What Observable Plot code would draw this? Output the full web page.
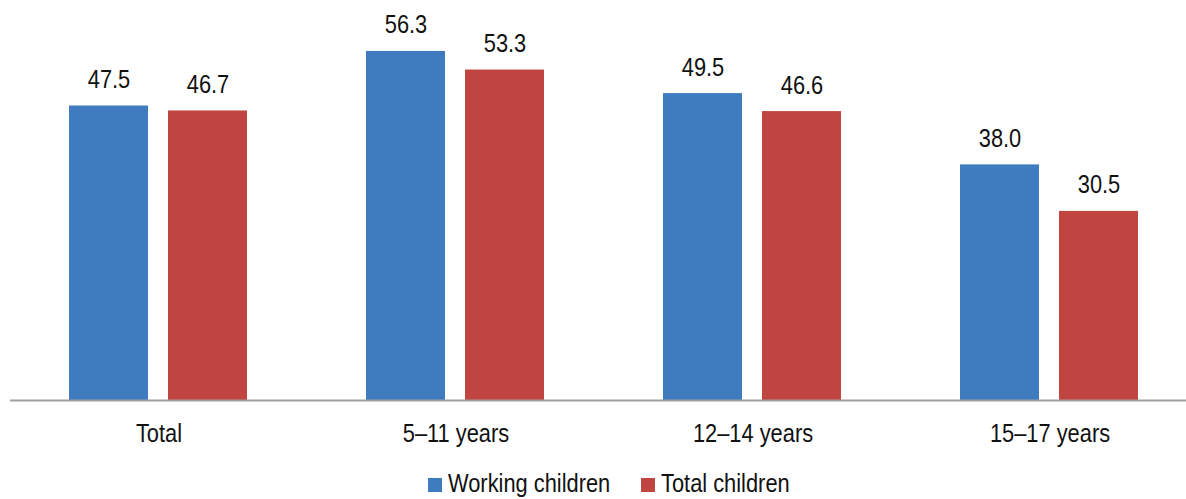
<!DOCTYPE html>
<html><head><meta charset="utf-8">
<script src="https://cdn.jsdelivr.net/npm/d3@7"></script>
<script src="https://cdn.jsdelivr.net/npm/@observablehq/plot@0.6"></script>
<style>
body{margin:0;background:#fff;font-family:"Liberation Sans",Arial,sans-serif;position:relative;width:1186px;height:499px;overflow:hidden;}
#legend{position:absolute;top:0;left:0;width:1186px;height:499px;font-size:26px;color:#111;pointer-events:none;}
#legend .sw{position:absolute;top:478px;width:14px;height:14px;}
#legend .lab{position:absolute;top:470px;line-height:26px;white-space:nowrap;transform:scaleX(0.84);transform-origin:left center;}
</style></head><body><div id="chart"></div><div id="legend"></div>
<script>
const groups = ["Total", "5–11 years", "12–14 years", "15–17 years"];
const series = ["Working children", "Total children"];
const working = [47.5, 56.3, 49.5, 38.0];
const totalChildren = [46.7, 53.3, 46.6, 30.5];
const colors = ["#3F7CBF", "#C0443F"];

const data = groups.flatMap((g, i) => [
  {group: g, series: series[0], value: working[i]},
  {group: g, series: series[1], value: totalChildren[i]}
]);

const plot = Plot.plot({
  width: 1186, height: 465,
  marginLeft: 10, marginRight: -12, marginTop: 28, marginBottom: 65,
  style: {fontFamily: '"Liberation Sans",Arial,sans-serif', fontSize: "26px", color: "#111", background: "#fff", overflow: "visible"},
  fx: {domain: groups, padding: 0, label: null, axis: "bottom", tickSize: 0, tickPadding: 23},
  x: {domain: series, paddingInner: 0.2, paddingOuter: 0.6, axis: null},
  y: {domain: [0, 60], axis: null},
  color: {domain: series, range: colors},
  marks: [
    Plot.barY(data, {fx: "group", x: "series", y: "value", fill: "series"}),
    Plot.text(data, {fx: "group", x: "series", y: "value", text: d => d.value.toFixed(1), dy: -18, lineAnchor: "bottom", fontSize: 26, fill: "#111"}),
    Plot.ruleY([0], {stroke: "#a0a0a0", strokeWidth: 2})
  ]
});
document.getElementById("chart").appendChild(plot);

// condense text horizontally (narrow typeface look), keeping each label centred
const svg = plot.tagName.toLowerCase() === "svg" ? plot : plot.querySelector("svg");
svg.querySelectorAll("text").forEach(t => {
  const bb = t.getBBox();
  const c = t.transform && t.transform.baseVal && t.transform.baseVal.numberOfItems ? t.transform.baseVal.consolidate() : null;
  const tx = c ? c.matrix.e : 0;
  const cx = bb.x + bb.width / 2 + tx;
  const g = document.createElementNS("http://www.w3.org/2000/svg", "g");
  g.setAttribute("transform", `translate(${cx},0) scale(0.84,1) translate(${-cx},0)`);
  t.parentNode.insertBefore(g, t);
  g.appendChild(t);
});

const legend = document.getElementById("legend");
const swX = [428, 641], labX = [448, 661];
series.forEach((s, i) => {
  const sw = document.createElement("span");
  sw.className = "sw";
  sw.style.left = swX[i] + "px";
  sw.style.background = colors[i];
  legend.appendChild(sw);
  const lab = document.createElement("span");
  lab.className = "lab";
  lab.style.left = labX[i] + "px";
  lab.textContent = s;
  legend.appendChild(lab);
});
</script></body></html>
